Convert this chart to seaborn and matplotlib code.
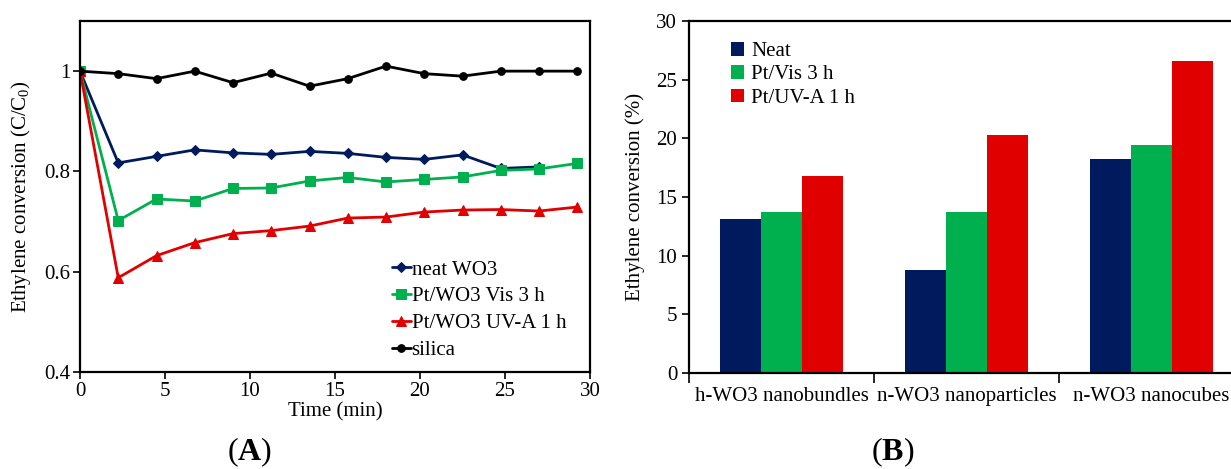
import matplotlib
matplotlib.use('Agg')
import numpy as np
import matplotlib.pyplot as plt
import seaborn as sns
import pandas as pd

# ---- panel A data: C/C0 vs time ----
time = [0, 2.25, 4.5, 6.75, 9, 11.25, 13.5, 15.75, 18, 20.25, 22.5, 24.75, 27, 29.25]
neat_wo3 = [1.0, 0.817, 0.830, 0.843, 0.837, 0.834, 0.840, 0.836, 0.828, 0.824, 0.833, 0.806, 0.809]
pt_vis = [1.0, 0.702, 0.745, 0.741, 0.766, 0.767, 0.781, 0.788, 0.779, 0.784, 0.789, 0.802, 0.805, 0.816]
pt_uva = [1.0, 0.588, 0.632, 0.658, 0.676, 0.682, 0.691, 0.707, 0.709, 0.719, 0.723, 0.724, 0.721, 0.729]
silica = [1.0, 0.995, 0.985, 1.0, 0.977, 0.996, 0.970, 0.985, 1.010, 0.995, 0.990, 1.0, 1.0, 1.0]

# ---- panel B data: conversion (%) ----
materials = ['h-WO3 nanobundles', 'n-WO3 nanoparticles', 'n-WO3 nanocubes']
treatments = ['Neat', 'Pt/Vis 3 h', 'Pt/UV-A 1 h']
conv_neat = [13.1, 8.8, 18.2]
conv_vis = [13.7, 13.7, 19.4]
conv_uva = [16.8, 20.3, 26.6]

navy = '#001A5E'
green = '#00B04F'
red = '#E00000'

sns.set_style('white')
plt.rcParams['font.family'] = ['Liberation Serif', 'DejaVu Serif']
plt.rcParams['mathtext.fontset'] = 'custom'
plt.rcParams['mathtext.rm'] = 'Liberation Serif'
plt.rcParams['mathtext.it'] = 'Liberation Serif:italic'
plt.rcParams['mathtext.bf'] = 'Liberation Serif:bold'
for k in ['text.color', 'axes.labelcolor', 'xtick.color', 'ytick.color']:
    plt.rcParams[k] = 'black'

fs = 15

fig = plt.figure(figsize=(12.31, 4.69), dpi=100)
ax1 = fig.add_axes([80/1231, 97/469, 510/1231, 351/469])
ax2 = fig.add_axes([689/1231, 96/469, 555/1231, 352/469])

# panel A
series = [('neat WO3', neat_wo3, navy, 'D', 5.5),
          ('Pt/WO3 Vis 3 h', pt_vis, green, 's', 7),
          ('Pt/WO3 UV-A 1 h', pt_uva, red, '^', 7),
          ('silica', silica, 'black', 'o', 5.5)]
for name, vals, c, m, ms in series:
    sns.lineplot(x=time[:len(vals)], y=vals, ax=ax1, color=c, marker=m, markersize=ms,
                 markeredgecolor=c, linewidth=2, label=name)
ax1.set_xlim(0, 30)
ax1.set_ylim(0.4, 1.1)
ax1.set_xticks([0, 5, 10, 15, 20, 25, 30])
ax1.set_yticks([0.4, 0.6, 0.8, 1.0])
ax1.set_yticklabels(['0.4', '0.6', '0.8', '1'])
ax1.tick_params(bottom=True, left=True, direction='out', length=5, width=1.2,
                labelsize=fs, color='black', pad=2)
ax1.set_xlabel('Time (min)', fontsize=fs, labelpad=1)
ax1.set_ylabel('Ethylene conversion (C/C$_\\mathrm{0}$)', fontsize=fs, labelpad=8)
for s in ax1.spines.values():
    s.set_linewidth(1.6)
    s.set_color('black')
ax1.legend(loc='lower left', bbox_to_anchor=(0.595, 0.01), frameon=False, fontsize=fs,
           handlelength=0.9, handletextpad=0.05, labelspacing=0.35, borderaxespad=0)

# panel B
df = pd.DataFrame({
    'material': materials * 3,
    'treatment': [treatments[0]] * 3 + [treatments[1]] * 3 + [treatments[2]] * 3,
    'conv': conv_neat + conv_vis + conv_uva,
})
sns.barplot(data=df, x='material', y='conv', hue='treatment', ax=ax2,
            palette=[navy, green, red], width=0.665, gap=0, saturation=1, linewidth=0)
ax2.set_xlim(-0.5, 2.5)
ax2.set_ylim(0, 30)
ax2.set_yticks([0, 5, 10, 15, 20, 25, 30])
ax2.set_xticks([-0.5, 0.5, 1.5, 2.5], minor=True)
ax2.tick_params(axis='x', which='major', bottom=False, length=0, labelsize=fs, pad=10)
ax2.tick_params(axis='x', which='minor', bottom=True, direction='out', length=7, width=1.2,
                color='black')
ax2.tick_params(axis='y', left=True, direction='out', length=5, width=1.2, labelsize=fs,
                color='black')
ax2.set_xlabel('')
ax2.set_ylabel('Ethylene conversion (%)', fontsize=fs, labelpad=8)
for s in ax2.spines.values():
    s.set_linewidth(1.6)
    s.set_color('black')
ax2.legend(loc='upper left', bbox_to_anchor=(0.06, 0.965), frameon=False, fontsize=fs,
           handlelength=0.65, handleheight=0.65, handletextpad=0.35, labelspacing=0.2,
           borderaxespad=0)

fig.text(250/1231, 1 - 452/469, '($\\mathbf{A}$)', fontsize=23, ha='center', va='center')
fig.text(893/1231, 1 - 452/469, '($\\mathbf{B}$)', fontsize=23, ha='center', va='center')

plt.savefig('out.png', dpi=100)
